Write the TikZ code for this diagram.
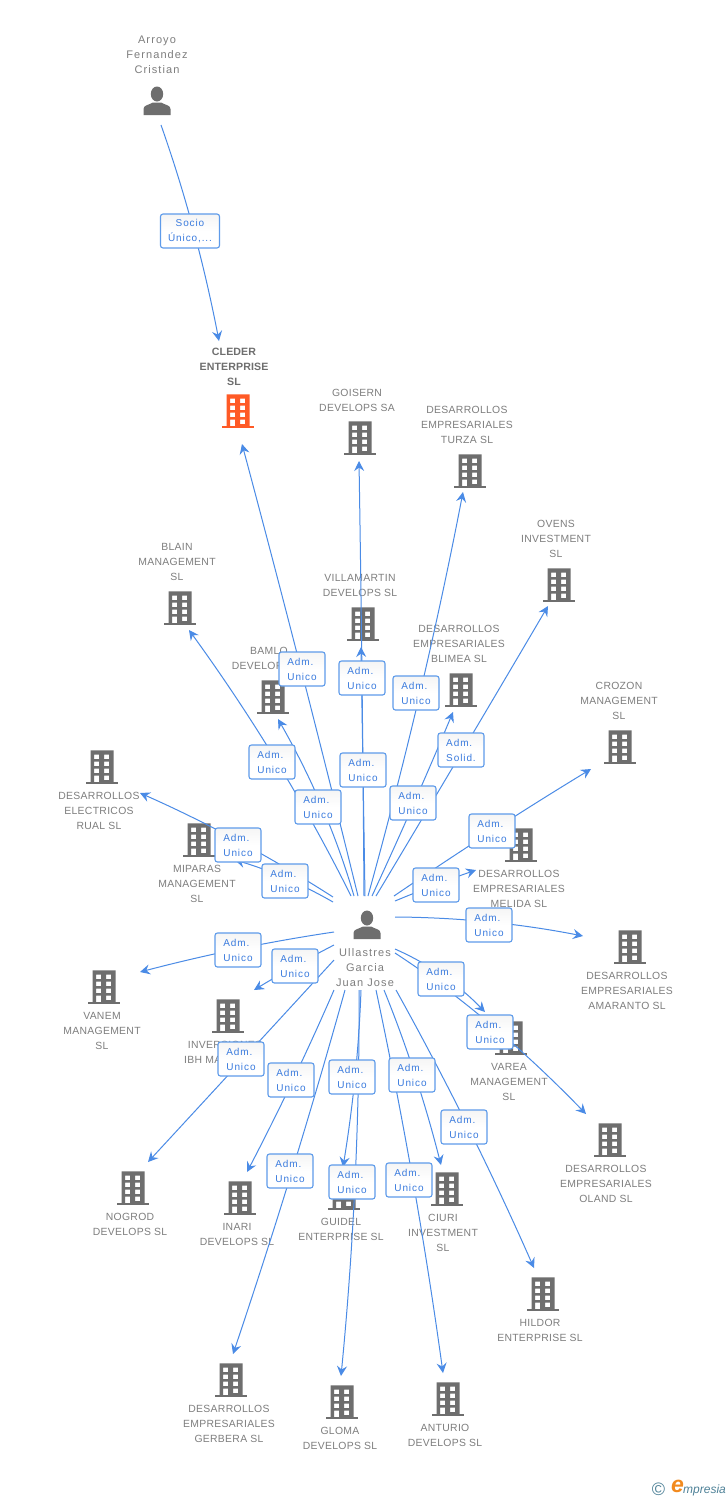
\documentclass[tikz,border=0pt]{standalone}
\usepackage{fontspec}
\setmainfont{Liberation Sans}
\newfontfamily\lblfont[LetterSpace=3]{Liberation Sans}
\newfontfamily\perfont[LetterSpace=10]{Liberation Sans}
\newfontfamily\boxfont[LetterSpace=9]{Liberation Sans}
\newfontfamily\boldfont[LetterSpace=1]{Liberation Sans Bold}
\usetikzlibrary{arrows.meta,calc,shadings}
\definecolor{edgeblue}{HTML}{4A8BE6}
\definecolor{txtblue}{HTML}{3A7BDE}
\definecolor{boxline}{HTML}{5E9BEA}
\definecolor{txtgray}{HTML}{7E7E7E}
\definecolor{icongray}{HTML}{6E6E6E}
\definecolor{iconorange}{HTML}{FF5A26}
\definecolor{logoblue}{HTML}{4F8298}
\definecolor{logoorange}{HTML}{F28A1E}
\tikzset{
  edgeline/.style={draw=edgeblue,line width=1pt,-{Stealth[length=10pt,width=10pt,inset=3.5pt]}},
  adm/.style={draw=boxline,line width=1.1pt,rounded corners=2.5pt,minimum width=46pt,minimum height=34pt,inner sep=0pt,top color=gray!8,bottom color=white,middle color=white,text=txtblue,font=\boxfont\fontsize{10}{15}\selectfont,align=left},
  lbl/.style={text=txtgray,font=\lblfont\fontsize{10.4}{15}\selectfont,align=center,inner sep=0pt,anchor=north,yshift=-3.5pt},
  perlbl/.style={text=txtgray,font=\perfont\fontsize{11}{15}\selectfont,align=center,inner sep=0pt,anchor=north,yshift=-3.5pt},
  boldlbl/.style={text=icongray,font=\boldfont\fontsize{10.6}{15}\selectfont,align=center,inner sep=0pt,anchor=north,yshift=-3.5pt},
}
% \bld{name}{x}{y}{colour}: office tower icon centred on x,y
\newcommand{\bld}[4]{%
  \coordinate (#1) at (#2,#3);
  \begin{scope}[shift={(#1)}]
    \fill[#4] (-16,14.5) rectangle (16,17);
    \fill[#4,even odd rule] (-11.5,-16.7) rectangle (11.5,15)
      (-8,-12.5) rectangle (-3,-8) (2,-12.5) rectangle (7,-8)
      (-8,-5.5) rectangle (-3,-1) (2,-5.5) rectangle (7,-1)
      (-8,1.5) rectangle (-3,6) (2,1.5) rectangle (7,6)
      (-8,8.5) rectangle (-3,15) (2,8.5) rectangle (7,13);
  \end{scope}}
% \pers{name}{x}{y}: person icon centred on x,y
\newcommand{\pers}[3]{%
  \coordinate (#1) at (#2,#3);
  \begin{scope}[shift={(#1)}]
    \fill[icongray] (0,-7) ellipse (6.2 and 7.5);
    \fill[icongray] (-13.5,14) -- (-13.5,8) .. controls (-13.5,4) and (-8,4) .. (-4,1.5)
      -- (4,1.5) .. controls (8,4) and (13.5,4) .. (13.5,8) -- (13.5,14) -- cycle;
  \end{scope}}
% \edge{id}{start}{through}{end}: curve from start through a point to arrow end
\newcommand{\edge}[4]{%
  \coordinate (#1-s) at (#2);
  \coordinate (#1-t) at (#3);
  \coordinate (#1-e) at (#4);
  \coordinate (#1-c) at ($2*(#1-t)-0.5*(#1-s)-0.5*(#1-e)$);
  \draw[edgeline] (#1-s) .. controls ($(#1-s)!0.6667!(#1-c)$) and ($(#1-e)!0.6667!(#1-c)$) .. (#1-e);}
% \admbox{id}{x}{y}{second line}
\newcommand{\admbox}[4]{\node[adm] (#1) at (#2,#3) {Adm.\\#4};}
\begin{document}
\begin{tikzpicture}[x=1pt,y=-1pt]
\useasboundingbox (0,0) rectangle (728,1500);
\fill[white] (0,0) rectangle (728,1500);
% icons
\pers{arroyo}{157}{101}
\pers{ullastres}{367}{925}
\bld{cleder}{238}{411}{iconorange}
\bld{goisern}{360}{438}{icongray}
\bld{turza}{470}{471}{icongray}
\bld{ovens}{559}{585}{icongray}
\bld{crozon}{620}{747}{icongray}
\bld{blain}{180}{608}{icongray}
\bld{villamartin}{363}{624}{icongray}
\bld{bamlo}{273}{697}{icongray}
\bld{blimea}{461}{690}{icongray}
\bld{melida}{521}{845}{icongray}
\bld{electricos}{102}{767}{icongray}
\bld{miparas}{199}{840}{icongray}
\bld{amaranto}{630}{947}{icongray}
\bld{vanem}{104}{987}{icongray}
\bld{ibh}{228}{1016}{icongray}
\bld{varea}{511}{1038}{icongray}
\bld{oland}{610}{1140}{icongray}
\bld{nogrod}{133}{1188}{icongray}
\bld{inari}{240}{1198}{icongray}
\bld{guidel}{344}{1193}{icongray}
\bld{ciuri}{447}{1189}{icongray}
\bld{hildor}{543}{1294}{icongray}
\bld{gerbera}{231}{1380}{icongray}
\bld{gloma}{342}{1402}{icongray}
\bld{anturio}{448}{1399}{icongray}
% labels
\node[perlbl] (l-arroyo) at (157,32) {Arroyo\\Fernandez\\Cristian};
\node[perlbl] (l-ull) at (365,945) {Ullastres\\Garcia\\Juan Jose};
\node[boldlbl] (l-cleder) at (234,344) {CLEDER\\ENTERPRISE\\SL};
\node[lbl] (l-goisern) at (357,386) {GOISERN\\DEVELOPS SA};
\node[lbl] (l-turza) at (467,403) {DESARROLLOS\\EMPRESARIALES\\TURZA  SL};
\node[lbl] (l-ovens) at (556,517) {OVENS\\INVESTMENT\\SL};
\node[lbl] (l-crozon) at (619,679) {CROZON\\MANAGEMENT\\SL};
\node[lbl] (l-blain) at (177,540) {BLAIN\\MANAGEMENT\\SL};
\node[lbl] (l-villa) at (360,571) {VILLAMARTIN\\DEVELOPS SL};
\node[lbl] (l-blimea) at (459,622) {DESARROLLOS\\EMPRESARIALES\\BLIMEA SL};
\node[lbl] (l-bamlo) at (269,644) {BAMLO\\DEVELOPS SL};
\node[lbl] (l-elec) at (99,789) {DESARROLLOS\\ELECTRICOS\\RUAL  SL};
\node[lbl] (l-miparas) at (197,862) {MIPARAS\\MANAGEMENT\\SL};
\node[lbl] (l-melida) at (519,867) {DESARROLLOS\\EMPRESARIALES\\MELIDA  SL};
\node[lbl] (l-amaranto) at (627,969) {DESARROLLOS\\EMPRESARIALES\\AMARANTO SL};
\node[lbl] (l-vanem) at (102,1009) {VANEM\\MANAGEMENT\\SL};
\node[lbl] (l-ibh1) at (225,1038) {INVERSIONES};
\node[lbl,anchor=north west] (l-ibh2) at (184,1053) {IBH MANAGE};
\node[lbl] (l-varea) at (509,1060) {VAREA\\MANAGEMENT\\SL};
\node[lbl] (l-oland) at (606,1162) {DESARROLLOS\\EMPRESARIALES\\OLAND  SL};
\node[lbl] (l-nogrod) at (130,1210) {NOGROD\\DEVELOPS SL};
\node[lbl] (l-inari) at (237,1220) {INARI\\DEVELOPS  SL};
\node[lbl] (l-guidel) at (341,1215) {GUIDEL\\ENTERPRISE  SL};
\node[lbl] (l-ciuri) at (443,1211) {CIURI\\INVESTMENT\\SL};
\node[lbl] (l-hildor) at (540,1316) {HILDOR\\ENTERPRISE SL};
\node[lbl] (l-gerbera) at (229,1402) {DESARROLLOS\\EMPRESARIALES\\GERBERA SL};
\node[lbl] (l-gloma) at (340,1424) {GLOMA\\DEVELOPS  SL};
\node[lbl] (l-anturio) at (445,1421) {ANTURIO\\DEVELOPS SL};
% connectors
\edge{e0}{161,125}{193.5,230}{219,341}
\edge{e1}{358,896}{301,669}{242,444}
\edge{e2}{364,896}{362,678}{359,461}
\edge{e3}{365,896}{363,770}{361,647}
\edge{e4}{368,896}{420,693}{463,492}
\edge{e5}{376,896}{463,750}{548,606}
\edge{e6}{372,896}{414,803}{453,712}
\edge{e7}{354,896}{322,807}{278,719}
\edge{e8}{351,896}{277,762}{189,630}
\edge{e9}{333,902}{285,878}{235,860}
\edge{e10}{333,897}{238,841}{140,793}
\edge{e11}{394,896}{492,831}{591,769}
\edge{e12}{395,901}{435,885}{476,870}
\edge{e13}{395,917}{489,922}{583,936}
\edge{e14}{395,949}{443,976}{485,1012}
\edge{e15}{395,953}{490,1024}{586,1114}
\edge{e16}{396,990}{468,1127}{534,1268}
\edge{e17}{384,990}{415,1075}{441,1165}
\edge{e18}{376,990}{413,1181}{443,1373}
\edge{e19}{361,990}{355,1077}{343,1167}
\edge{e20}{359,990}{355,1182}{341,1376}
\edge{e21}{345,990}{292,1171}{233,1354}
\edge{e22}{334,990}{293,1080}{247,1172}
\edge{e23}{334,960}{243,1059}{148,1162}
\edge{e24}{334,945}{295,966}{254,990}
\edge{e25}{334,932}{238,949}{140,972}
% edge label boxes
\node[adm,minimum width=59pt,align=center] (b0) at (190,231) {Socio\\Único,...};
\admbox{b1}{302}{669}{Unico}
\admbox{b2}{362}{678}{Unico}
\admbox{b3}{363}{770}{Unico}
\admbox{b4}{416}{693}{Unico}
\admbox{b5}{461}{750}{Solid.}
\admbox{b6}{413}{803}{Unico}
\admbox{b7}{318}{807}{Unico}
\admbox{b8}{272}{762}{Unico}
\admbox{b9}{285}{881}{Unico}
\admbox{b10}{238}{845}{Unico}
\admbox{b11}{492}{831}{Unico}
\admbox{b12}{436}{885}{Unico}
\admbox{b13}{489}{925}{Unico}
\admbox{b14}{441}{979}{Unico}
\admbox{b15}{490}{1032}{Unico}
\admbox{b16}{464}{1127}{Unico}
\admbox{b17}{412}{1075}{Unico}
\admbox{b18}{409}{1180}{Unico}
\admbox{b19}{352}{1077}{Unico}
\admbox{b20}{352}{1182}{Unico}
\admbox{b21}{290}{1171}{Unico}
\admbox{b22}{291}{1080}{Unico}
\admbox{b23}{241}{1059}{Unico}
\admbox{b24}{295}{966}{Unico}
\admbox{b25}{238}{950}{Unico}
% logo
\node[inner sep=0pt,text=logoblue,font=\fontsize{18}{18}\selectfont] (logo-c) at (658.5,1489) {©};
\node[inner sep=0pt,text=logoorange,font=\bfseries\itshape\fontsize{23}{23}\selectfont] (logo-e) at (677.5,1486) {e};
\node[inner sep=0pt,text=logoblue,font=\itshape\fontsize{12}{12}\selectfont,anchor=west] (logo-t) at (683,1490) {mpresia};
\end{tikzpicture}
\end{document}
